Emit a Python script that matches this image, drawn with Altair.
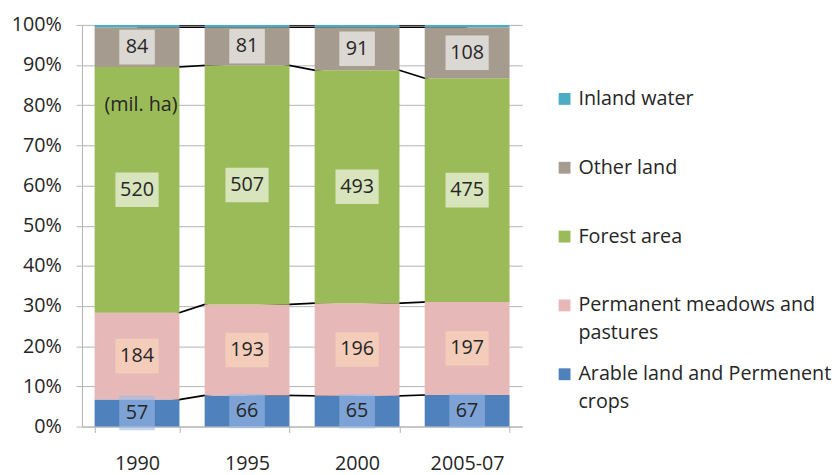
import altair as alt
import pandas as pd

categories = ["1990", "1995", "2000", "2005-07"]
series = ["Arable land and Permenent crops", "Permanent meadows and pastures",
          "Forest area", "Other land", "Inland water"]
arable = [57, 66, 65, 67]
meadows = [184, 193, 196, 197]
forest = [520, 507, 493, 475]
other = [84, 81, 91, 108]
water = [5, 5, 5, 5]

legend_order = ["Inland water", "Other land", "Forest area",
                "Permanent meadows and pastures", "Arable land and Permenent crops"]
legend_labels = ["Inland water", "Other land", "Forest area",
                 "Permanent meadows and\npastures", "Arable land and Permenent\ncrops"]

unit_note = "(mil. ha)"

bar_colors = ["#4f81bd", "#e6b9b8", "#9bbb59", "#a69b8f", "#4bacc6"]
box_colors = ["#9dbbe6", "#fbdaba", "#ffffff", "#ffffff", "#ffffff"]

FONT = "Open Sans"
TXT = "#262626"
GRID = "#b3b3b3"
PAD_INNER = 0.229

# ---- derived table ----
rows = []
for ci, cat in enumerate(categories):
    vals = [arable[ci], meadows[ci], forest[ci], other[ci], water[ci]]
    total = float(sum(vals))
    cum = 0.0
    for si, (s, v) in enumerate(zip(series, vals)):
        lo = cum / total
        cum += v
        hi = cum / total
        rows.append(dict(cat=cat, series=s, order=si, value=v, lo=lo, hi=hi,
                         mid=(lo + hi) / 2, digits=len(str(v))))
df = pd.DataFrame(rows)

# series lines join bar edges; drawn centre-to-centre behind the bars, with the
# ends extended so that the visible part in each gap runs edge to edge
ext = (1 - PAD_INNER) / 2 / PAD_INNER
line_rows = []
for si, s in enumerate(series):
    for ci in range(len(categories) - 1):
        a = df[(df.cat == categories[ci]) & (df.series == s)].hi.iloc[0]
        b = df[(df.cat == categories[ci + 1]) & (df.series == s)].hi.iloc[0]
        seg = f"{si}-{ci}"
        line_rows.append(dict(seg=seg, cat=categories[ci], top=a - (b - a) * ext))
        line_rows.append(dict(seg=seg, cat=categories[ci + 1], top=b + (b - a) * ext))
ldf = pd.DataFrame(line_rows)

label_df = df[df.series != "Inland water"]
note_df = pd.DataFrame({"cat": [categories[0]], "y": [0.8], "text": [unit_note]})

xscale = alt.Scale(domain=categories, paddingInner=PAD_INNER, paddingOuter=PAD_INNER / 2)
xaxis = alt.Axis(title=None, labelAngle=0, tickBand="extent", domainColor=GRID,
                 tickColor=GRID, tickSize=6, labelPadding=22, labelFontSize=20,
                 labelFont=FONT, labelColor=TXT, grid=False)
yscale = alt.Scale(domain=[0, 1])
yaxis = alt.Axis(title=None, format="%", values=[i / 10 for i in range(11)],
                 domainColor=GRID, tickColor=GRID, tickSize=6, gridColor=GRID,
                 labelPadding=15, labelFontSize=20, labelFont=FONT, labelColor=TXT)

def X():
    return alt.X("cat:N", scale=xscale, axis=xaxis, sort=categories)

color_scale = alt.Scale(domain=series, range=bar_colors)

lines = alt.Chart(ldf).mark_line(color="black", strokeWidth=1.7, clip=True).encode(
    x=X(),
    y=alt.Y("top:Q", scale=yscale, axis=yaxis),
    detail="seg:N",
)

bars = alt.Chart(df).mark_bar().encode(
    x=X(),
    y=alt.Y("lo:Q", scale=yscale, axis=yaxis),
    y2="hi:Q",
    color=alt.Color("series:N", scale=color_scale, legend=None),
)

boxes = alt.Chart(label_df).mark_point(filled=True, opacity=0.6, strokeWidth=0).encode(
    x=X(),
    y=alt.Y("mid:Q", scale=yscale, axis=yaxis),
    fill=alt.Fill("series:N", scale=alt.Scale(domain=series, range=box_colors), legend=None),
    shape=alt.Shape("digits:O", scale=alt.Scale(domain=[2, 3], range=[
        "M-1.03,-1H1.03V1H-1.03Z", "M-1.25,-1H1.25V1H-1.25Z"]), legend=None),
    size=alt.value(1225),
)

labels = alt.Chart(label_df).mark_text(fontSize=20, font=FONT, color=TXT, baseline="middle").encode(
    x=X(),
    y=alt.Y("mid:Q", scale=yscale, axis=yaxis),
    text="value:Q",
)

note = alt.Chart(note_df).mark_text(fontSize=20, font=FONT, color=TXT, baseline="middle", dx=4).encode(
    x=X(),
    y=alt.Y("y:Q", scale=yscale, axis=yaxis),
    text="text:N",
)

main = alt.layer(lines, bars, boxes, labels, note).properties(width=446, height=407)

leg_df = pd.DataFrame({"series": legend_order, "label": legend_labels})
leg_y = alt.Y("series:N", scale=alt.Scale(type="point", domain=legend_order,
                                          range=[75, 354], padding=0), axis=None)
sq = alt.Chart(leg_df).mark_square(size=144, opacity=1).encode(
    x=alt.value(6), y=leg_y,
    color=alt.Color("series:N", scale=color_scale, legend=None),
)
txt = alt.Chart(leg_df).mark_text(align="left", baseline="top", dy=-10, lineBreak="\n",
                                  lineHeight=28, fontSize=20, font=FONT, color=TXT).encode(
    x=alt.value(20), y=leg_y, text="label:N",
)
legend = alt.layer(sq, txt).properties(width=250, height=407)

chart = alt.hconcat(main, legend, spacing=37).properties(
    padding={"left": 3, "top": 4, "right": 0, "bottom": 0}
).configure_view(stroke=None)

chart.save("out.html", embed_options={"renderer": "svg", "actions": False})
